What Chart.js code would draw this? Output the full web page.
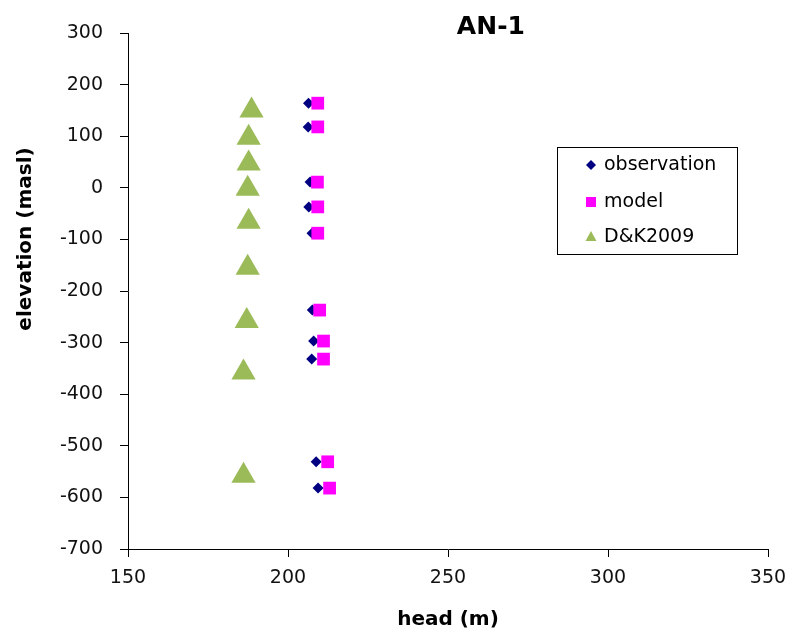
<!DOCTYPE html>
<html>
<head>
<meta charset="utf-8">
<script src="https://cdn.jsdelivr.net/npm/chart.js@4"></script>
<style>
  html, body { margin: 0; padding: 0; background: #fff; }
</style>
</head>
<body>
<canvas id="anChart" width="792" height="641"></canvas>
<script>
// observation (diamonds)
const obsHead = [206.4, 206.3, 206.9, 206.5, 207.5, 207.6, 208.0, 207.4, 208.8, 209.4];
const obsElev = [164, 118, 11, -37, -88, -237, -297, -332, -531, -582];
// model (squares)
const modelHead = [209.3, 209.3, 209.2, 209.3, 209.3, 209.9, 211.1, 211.1, 212.4, 213.0];
const modelElev = [164, 118, 11, -37, -88, -237, -297, -332, -531, -582];
// D&K2009 (triangles)
const dkHead = [188.6, 187.7, 187.7, 187.4, 187.7, 187.4, 187.1, 186.1, 186.1];
const dkElev = [150, 97, 47, -2, -66, -155, -258, -358, -558];

const seriesNames = ['observation', 'model', 'D&K2009'];

const toPoints = (xs, ys) => xs.map((x, i) => ({ x: x, y: ys[i] }));

Chart.defaults.font.family = '"DejaVu Sans", Arial, sans-serif';
Chart.defaults.color = '#000';

// title, y axis title and the boxed legend are drawn here
const extras = {
  id: 'extras',
  afterDraw(chart) {
    const ctx = chart.ctx;
    const area = chart.chartArea;
    ctx.save();
    ctx.fillStyle = '#000';
    ctx.textBaseline = 'middle';

    ctx.font = 'bold 25px "DejaVu Sans"';
    ctx.textAlign = 'center';
    ctx.fillText('AN-1', area.left + (area.right - area.left) * 0.567, 27);

    ctx.save();
    ctx.font = 'bold 20px "DejaVu Sans"';
    ctx.translate(26, 239);
    ctx.rotate(-Math.PI / 2);
    ctx.fillText('elevation (masl)', 0, 0);
    ctx.restore();

    // legend
    ctx.strokeStyle = '#000';
    ctx.lineWidth = 1;
    ctx.strokeRect(557.5, 147.5, 180, 107);
    ctx.font = '19px "DejaVu Sans"';
    ctx.textAlign = 'left';
    const rows = [165, 202, 237];
    chart.data.datasets.forEach((ds, i) => {
      const y = rows[i];
      const x = 591;
      ctx.fillStyle = ds.backgroundColor;
      ctx.beginPath();
      if (ds.pointStyle === 'rectRot') {
        ctx.moveTo(x - 5, y); ctx.lineTo(x, y - 5); ctx.lineTo(x + 5, y); ctx.lineTo(x, y + 5);
      } else if (ds.pointStyle === 'rect') {
        ctx.rect(x - 5, y - 5, 10, 10);
      } else {
        ctx.moveTo(x, y - 6); ctx.lineTo(x + 5.5, y + 4); ctx.lineTo(x - 5.5, y + 4);
      }
      ctx.closePath();
      ctx.fill();
      ctx.fillStyle = '#000';
      ctx.fillText(ds.label, 604, y);
    });
    ctx.restore();
  }
};

new Chart(document.getElementById('anChart'), {
  type: 'scatter',
  data: {
    datasets: [
      {
        label: seriesNames[0],
        data: toPoints(obsHead, obsElev),
        pointStyle: 'rectRot',
        pointRadius: 5.5,
        backgroundColor: '#000080',
        borderColor: '#000080',
        borderWidth: 0,
        order: 1
      },
      {
        label: seriesNames[1],
        data: toPoints(modelHead, modelElev),
        pointStyle: 'rect',
        pointRadius: 9,
        backgroundColor: '#FF00FF',
        borderColor: '#FF00FF',
        borderWidth: 0,
        order: 0
      },
      {
        label: seriesNames[2],
        data: toPoints(dkHead, dkElev),
        pointStyle: 'triangle',
        pointRadius: 14,
        backgroundColor: '#9BBB59',
        borderColor: '#9BBB59',
        borderWidth: 0,
        order: 2
      }
    ]
  },
  options: {
    responsive: false,
    animation: false,
    layout: { autoPadding: false, padding: { top: 33, right: 24, left: 0, bottom: 0 } },
    plugins: {
      legend: { display: false },
      title: { display: false },
      tooltip: { enabled: false }
    },
    scales: {
      x: {
        type: 'linear',
        min: 150,
        max: 350,
        ticks: { stepSize: 50, padding: 10, font: { size: 19 }, color: '#111' },
        grid: { drawOnChartArea: false, drawTicks: true, tickLength: 8, color: '#000' },
        border: { display: true, color: '#000', width: 1 },
        title: { display: true, text: 'head (m)', font: { size: 20, weight: 'bold' }, padding: 9 },
        afterFit: (scale) => { scale.height = 92; scale.paddingLeft = 0; scale.paddingRight = 0; }
      },
      y: {
        type: 'linear',
        min: -700,
        max: 300,
        ticks: { stepSize: 100, padding: 17, font: { size: 19 }, color: '#111' },
        grid: { drawOnChartArea: false, drawTicks: true, tickLength: 8, color: '#000' },
        border: { display: true, color: '#000', width: 1 },
        afterFit: (scale) => { scale.width = 128; scale.paddingTop = 0; scale.paddingBottom = 0; }
      }
    }
  },
  plugins: [extras]
});
</script>
</body>
</html>
